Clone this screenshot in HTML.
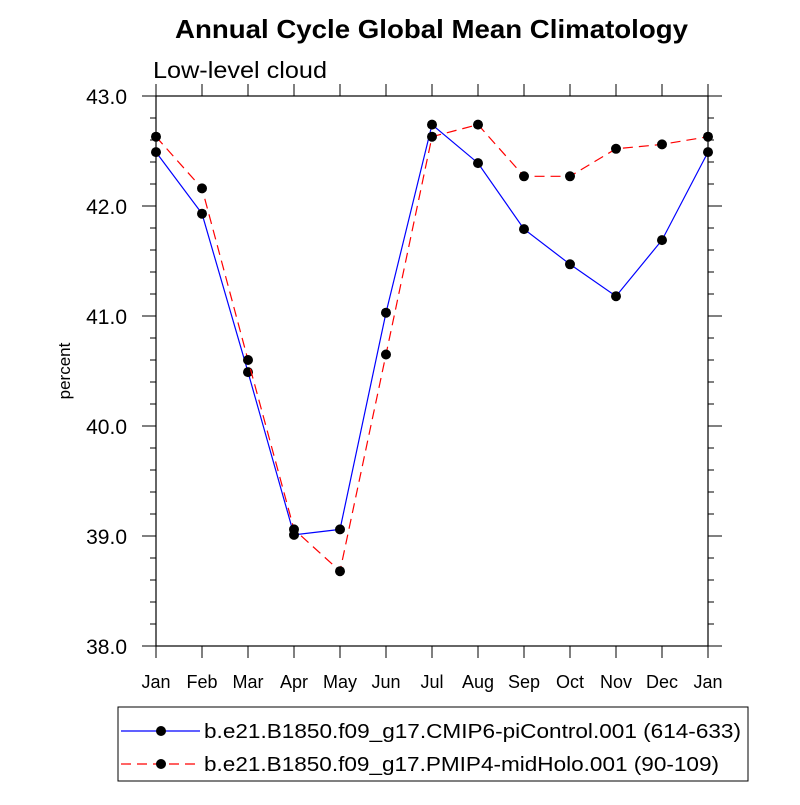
<!DOCTYPE html>
<html><head><meta charset="utf-8"><style>
body{margin:0;background:#fff}
svg text{font-family:"Liberation Sans",sans-serif}
</style></head><body>
<svg id="c" width="800" height="800" xmlns="http://www.w3.org/2000/svg">
<text x="175" y="38" font-size="26" font-weight="bold" textLength="513" lengthAdjust="spacingAndGlyphs">Annual Cycle Global Mean Climatology</text>
<text x="153" y="78" font-size="23" textLength="174" lengthAdjust="spacingAndGlyphs">Low-level cloud</text>
<text x="70" y="371" font-size="17" text-anchor="middle" transform="rotate(-90 70 371)">percent</text>
<g id="axes"></g>
<g id="series"></g>
<g>
<rect x="118" y="707" width="630" height="74" fill="none" stroke="#000" stroke-width="1"/>
<line x1="121" y1="731" x2="200" y2="731" stroke="#00f" stroke-width="1.2"/>
<circle cx="161" cy="731" r="5" fill="#000"/>
<text x="204" y="738" font-size="20" textLength="537" lengthAdjust="spacingAndGlyphs">b.e21.B1850.f09_g17.CMIP6-piControl.001 (614-633)</text>
<line x1="121" y1="764" x2="200" y2="764" stroke="#f00" stroke-width="1.2" stroke-dasharray="10,6"/>
<circle cx="161" cy="764" r="5" fill="#000"/>
<text x="204" y="771" font-size="20" textLength="515" lengthAdjust="spacingAndGlyphs">b.e21.B1850.f09_g17.PMIP4-midHolo.001 (90-109)</text>
</g>
</svg>
<script>
const months=["Jan","Feb","Mar","Apr","May","Jun","Jul","Aug","Sep","Oct","Nov","Dec","Jan"];
const piControl=[42.49,41.93,40.49,39.01,39.06,41.03,42.74,42.39,41.79,41.47,41.18,41.69,42.49];
const midHolo=[42.63,42.16,40.60,39.06,38.68,40.65,42.63,42.74,42.27,42.27,42.52,42.56,42.63];
const yTicks=["38.0","39.0","40.0","41.0","42.0","43.0"];
const X0=156,X1=708,Y0=646,Y1=96,ymin=38,ymax=43;
const xs=i=>X0+(X1-X0)*i/(months.length-1);
const ys=v=>Y0-(v-ymin)/(ymax-ymin)*(Y0-Y1);
const NS="http://www.w3.org/2000/svg";
function mk(t,a,p){const e=document.createElementNS(NS,t);for(const k in a)e.setAttribute(k,a[k]);p.appendChild(e);return e;}
const ax=document.getElementById('axes');
const fr=mk('rect',{x:X0,y:Y1,width:X1-X0,height:Y0-Y1,fill:'none',stroke:'#000','stroke-width':1.2},ax);


months.forEach((m,i)=>{const x=xs(i);
mk('line',{x1:x,y1:Y0,x2:x,y2:Y0+12,stroke:'#000'},ax);
mk('line',{x1:x,y1:Y1,x2:x,y2:Y1-12,stroke:'#000'},ax);
const t=mk('text',{x:x,y:Y0+42,'font-size':18,'text-anchor':'middle'},ax);t.textContent=m;

});
for(let v=ymin;v<=ymax+1e-9;v+=0.2){const y=ys(v);const maj=Math.abs(v-Math.round(v))<1e-6;const L=maj?14:6;
mk('line',{x1:X0-L,y1:y,x2:X0,y2:y,stroke:'#000'},ax);
mk('line',{x1:X1,y1:y,x2:X1+L,y2:y,stroke:'#000'},ax);}
yTicks.forEach(s=>{const t=mk('text',{x:X0-29,y:ys(parseFloat(s))+8,'font-size':21,'text-anchor':'end'},ax);t.textContent=s;

});
const sg=document.getElementById('series');
function draw(vals,col,dash,name){
const p=mk('polyline',{points:vals.map((v,i)=>xs(i)+','+ys(v)).join(' '),fill:'none',stroke:col,'stroke-width':1.2,'stroke-dasharray':dash},sg);


vals.forEach((v,i)=>{const c=mk('circle',{cx:xs(i),cy:ys(v),r:5,fill:'#000'},sg);

});}
draw(piControl,'#00f','none','picontrol');
draw(midHolo,'#f00','10,6','midholo');
</script>
</body></html>
